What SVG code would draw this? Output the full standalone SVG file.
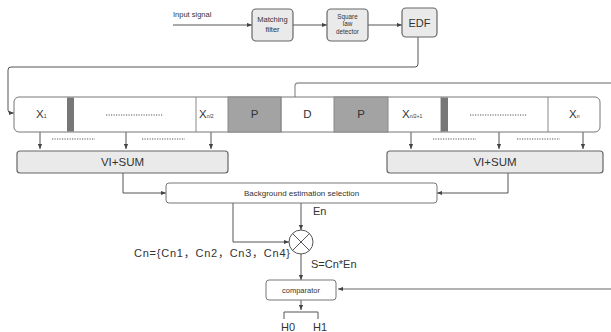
<svg xmlns="http://www.w3.org/2000/svg" width="611" height="332" viewBox="0 0 611 332">
<defs>
<marker id="ah" viewBox="0 0 6 6" refX="6" refY="3" markerWidth="5" markerHeight="5" orient="auto" markerUnits="userSpaceOnUse"><path d="M0,0.5 L6,3 L0,5.5 Z" fill="#444"/></marker>
<style>
text{font-family:"Liberation Sans",Arial,"Noto Sans CJK SC",sans-serif;fill:#333}
.ln{fill:none;stroke:#555;stroke-width:1}
.bx{fill:#eaeaea;stroke:#666;stroke-width:1.2}
.wb{fill:#fff;stroke:#777;stroke-width:1}
.cell{fill:#fff;stroke:#888;stroke-width:1}
.pc{fill:#a3a3a3;stroke:#888;stroke-width:1}
.bar{fill:#777;stroke:none}
.dots{stroke:#555;stroke-width:1;stroke-dasharray:1.2 1.3}
.gr{fill:none;stroke:#999;stroke-width:1.3}
</style>
</defs>
<g id="connectors">
<path class="ln" d="M173,25 H252" marker-end="url(#ah)"/>
<path class="ln" d="M293,25 H327" marker-end="url(#ah)"/>
<path class="ln" d="M368,25 H402" marker-end="url(#ah)"/>
<path class="ln" d="M418,37 V64 Q418,67 415,67 H11 Q8,67 8,70 V110 Q8,113 11,113 H14" marker-end="url(#ah)"/>
<path class="gr" d="M295,97 V86 Q295,83 298,83 H611"/>
<path class="ln" d="M40,132 V149" marker-end="url(#ah)"/>
<path class="ln" d="M126,132 V149" marker-end="url(#ah)"/>
<path class="ln" d="M211,132 V149" marker-end="url(#ah)"/>
<path class="ln" d="M411,132 V149" marker-end="url(#ah)"/>
<path class="ln" d="M499,132 V149" marker-end="url(#ah)"/>
<path class="ln" d="M583,132 V149" marker-end="url(#ah)"/>
<line class="dots" x1="52" y1="139" x2="95" y2="139"/>
<line class="dots" x1="142" y1="139" x2="185" y2="139"/>
<line class="dots" x1="433" y1="139" x2="476" y2="139"/>
<line class="dots" x1="517" y1="139" x2="560" y2="139"/>
<path class="ln" d="M123,173 V193 H166" marker-end="url(#ah)"/>
<path class="ln" d="M508,173 V193 H437" marker-end="url(#ah)"/>
<path class="ln" d="M233,203 V242 H289" marker-end="url(#ah)"/>
<path class="ln" d="M301,203 V230" marker-end="url(#ah)"/>
<path class="ln" d="M301,254 V280" marker-end="url(#ah)"/>
<path class="gr" d="M611,289 H338" marker-end="url(#ah)"/>
<path class="ln" d="M301,300 V310" marker-end="url(#ah)"/>
<path class="ln" d="M284,319 V312 H318 V319"/>
</g>
<g id="input-label"><text x="173" y="17" font-size="7.5">Input signal</text></g>
<g id="matching-filter">
<rect class="bx" x="252" y="9" width="41" height="32" rx="4"/>
<text x="272.5" y="22" font-size="7.5" text-anchor="middle">Matching</text>
<text x="272.5" y="32" font-size="7.5" text-anchor="middle">filter</text>
</g>
<g id="square-law-detector">
<rect class="bx" x="327" y="9" width="41" height="32" rx="4"/>
<text x="347.5" y="18.5" font-size="6.3" text-anchor="middle">Square</text>
<text x="347.5" y="26" font-size="6.3" text-anchor="middle">law</text>
<text x="347.5" y="33.5" font-size="6.3" text-anchor="middle">detector</text>
</g>
<g id="edf">
<rect class="bx" x="402" y="8" width="35" height="29" rx="4"/>
<text x="419.5" y="27" font-size="11" text-anchor="middle">EDF</text>
</g>
<g id="window">
<rect class="wb" x="14" y="97" width="586" height="35" rx="5"/>
<rect class="bar" x="67" y="97.5" width="7" height="34"/>
<line class="cell" x1="196" y1="97" x2="196" y2="132"/>
<rect class="pc" x="228" y="97" width="53" height="35"/>
<rect class="pc" x="334" y="97" width="54" height="35"/>
<line class="cell" x1="281" y1="97" x2="281" y2="132"/>
<line class="cell" x1="441" y1="97" x2="441" y2="132"/>
<rect class="bar" x="441" y="97.5" width="7" height="34"/>
<line class="cell" x1="548" y1="97" x2="548" y2="132"/>
<text x="36" y="118" font-size="11.5">X<tspan font-size="5">1</tspan></text>
<line class="dots" x1="106" y1="115" x2="163" y2="115"/>
<text x="199" y="118" font-size="11.5">X<tspan font-size="5">n/2</tspan></text>
<text x="254.5" y="118" font-size="11.5" text-anchor="middle">P</text>
<text x="307.5" y="118" font-size="11.5" text-anchor="middle">D</text>
<text x="361" y="118" font-size="11.5" text-anchor="middle">P</text>
<text x="402" y="118" font-size="11.5">X<tspan font-size="5">n/2+1</tspan></text>
<line class="dots" x1="470" y1="115" x2="527" y2="115"/>
<text x="569" y="118" font-size="11.5">X<tspan font-size="5">n</tspan></text>
</g>
<g id="vi-sum-left">
<rect class="bx" x="17" y="151" width="211" height="22" rx="3"/>
<text x="122.5" y="166" font-size="11.5" text-anchor="middle">VI+SUM</text>
</g>
<g id="vi-sum-right">
<rect class="bx" x="387" y="151" width="216" height="22" rx="3"/>
<text x="495" y="166" font-size="11.5" text-anchor="middle">VI+SUM</text>
</g>
<g id="background-selection">
<rect class="wb" x="166" y="183" width="271" height="20" rx="3"/>
<text x="301.5" y="196" font-size="8" text-anchor="middle">Background estimation selection</text>
</g>
<g id="multiplier">
<circle cx="301" cy="242" r="12" fill="#fff" stroke="#555" stroke-width="1"/>
<path d="M292.5,233.5 L309.5,250.5 M309.5,233.5 L292.5,250.5" stroke="#555" stroke-width="1"/>
</g>
<g id="labels">
<text x="313" y="215" font-size="11">En</text>
<text x="134" y="257" font-size="11" textLength="156" lengthAdjust="spacing">Cn={Cn1，Cn2，Cn3，Cn4}</text>
<text x="311" y="268" font-size="11">S=Cn*En</text>
<text x="281" y="331" font-size="11">H0</text>
<text x="313" y="331" font-size="11">H1</text>
</g>
<g id="comparator">
<rect class="wb" x="266" y="280" width="70" height="20" rx="3"/>
<text x="301" y="293" font-size="7.5" text-anchor="middle">comparator</text>
</g>
</svg>
